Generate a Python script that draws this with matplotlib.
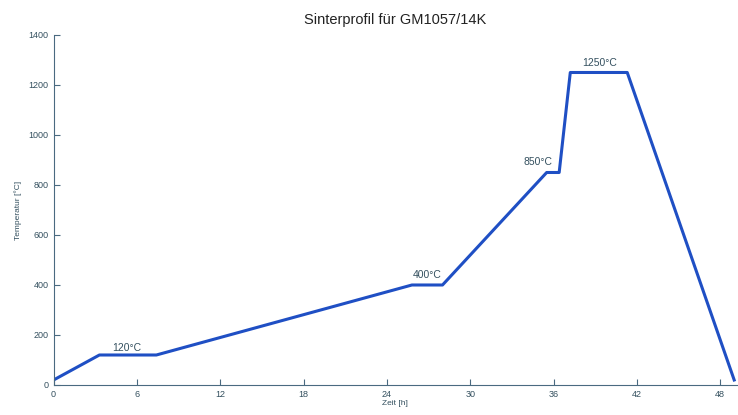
import matplotlib.pyplot as plt

# Sinterprofil: Zeit [h] und Temperatur [°C]
zeit = [0, 3.3, 7.4, 25.8, 28.0, 35.5, 36.4, 37.2, 41.3, 49.0]
temp = [20, 120, 120, 400, 400, 850, 850, 1250, 1250, 20]

labels = ["120°C", "400°C", "850°C", "1250°C"]
label_x = [5.3, 26.9, 34.9, 39.3]
label_y = [128, 418, 872, 1268]

x_ticks = [0, 6, 12, 18, 24, 30, 36, 42, 48]
y_ticks = [0, 200, 400, 600, 800, 1000, 1200, 1400]

plt.rcParams['font.family'] = ['Liberation Sans', 'DejaVu Sans']

fig = plt.figure(figsize=(7.38, 4.15), dpi=100)
ax = fig.add_axes([0.0726, 0.0723, 0.926, 0.8434])

ax.plot(zeit, temp, color="#1f4fc4", linewidth=2.2)

for t, lx, ly in zip(labels, label_x, label_y):
    ax.text(lx, ly, t, ha="center", va="bottom", fontsize=7.5, color="#34505f")

ax.set_xlim(0, 49.2)
ax.set_ylim(0, 1400)
ax.set_xticks(x_ticks)
ax.set_yticks(y_ticks)

ax.spines["top"].set_visible(False)
ax.spines["right"].set_visible(False)
for s in ["left", "bottom"]:
    ax.spines[s].set_color("#4a6a80")
    ax.spines[s].set_linewidth(0.8)
ax.tick_params(direction="in", length=4, width=0.8, colors="#4a6a80",
               labelsize=6.5, labelcolor="#34505f")

ax.set_title("Sinterprofil für GM1057/14K", fontsize=10.5, color="#222222", pad=8)
ax.set_xlabel("Zeit [h]", fontsize=6, color="#34505f", labelpad=1)
ax.set_ylabel("Temperatur [°C]", fontsize=6, color="#34505f", labelpad=5)

fig.savefig("out.png", dpi=100)
